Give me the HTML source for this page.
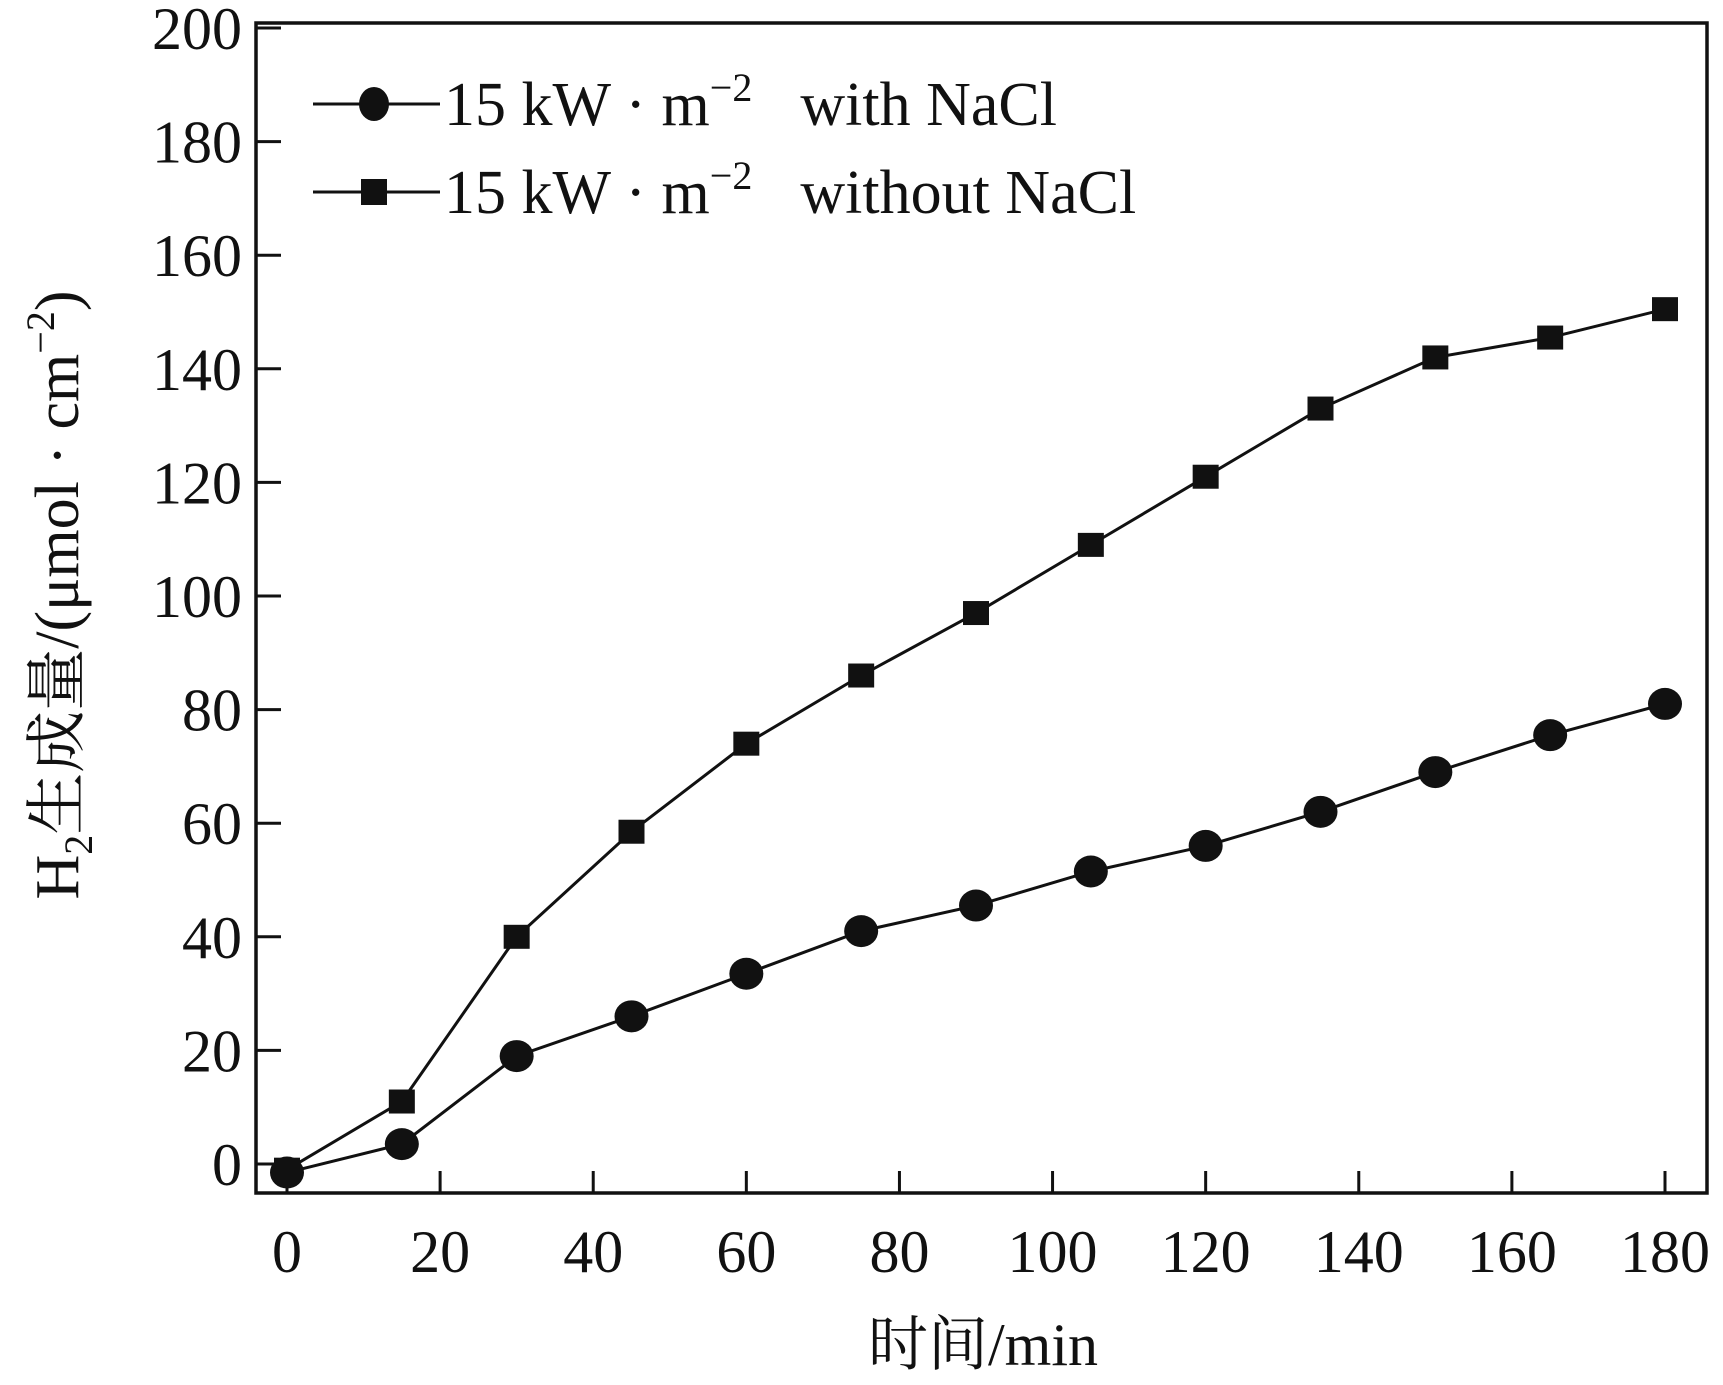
<!DOCTYPE html>
<html><head><meta charset="utf-8"><style>
html,body{margin:0;padding:0;background:#fff;}
svg{display:block;font-family:"Liberation Serif","Noto Serif CJK SC",serif;}
</style></head><body>
<svg id="chart" width="1723" height="1385" viewBox="0 0 1723 1385">
<rect x="256" y="23" width="1451" height="1170" fill="none" stroke="#111" stroke-width="3.5"/>
<g id="axes"></g>
<g id="series"></g>
<g>
  <g>
    <line x1="313" y1="104" x2="440" y2="104" stroke="#111" stroke-width="3"/>
    <ellipse cx="374" cy="104" rx="15" ry="17" fill="#111"/>
    <text x="444" y="125" font-size="62" fill="#111">15 kW · m<tspan dy="-24" font-size="40">−2</tspan><tspan dy="24" dx="48">with NaCl</tspan></text>
  </g>
  <g>
    <line x1="313" y1="192" x2="440" y2="192" stroke="#111" stroke-width="3"/>
    <rect x="361" y="179" width="26" height="26" fill="#111"/>
    <text x="444" y="213" font-size="62" fill="#111">15 kW · m<tspan dy="-24" font-size="40">−2</tspan><tspan dy="24" dx="48">without NaCl</tspan></text>
  </g>
</g>
<text transform="translate(78,595) rotate(-90)" text-anchor="middle" font-size="62" fill="#111">H<tspan dy="14" font-size="40">2</tspan><tspan dy="-14">生成量/(μmol · cm</tspan><tspan dy="-24" font-size="40">−2</tspan><tspan dy="24">)</tspan></text>
<text x="983" y="1365" text-anchor="middle" font-size="60" fill="#111">时间/min</text>
</svg>
<script>
const xTicks = [0,20,40,60,80,100,120,140,160,180];
const yTicks = [0,20,40,60,80,100,120,140,160,180,200];
const times = [0,15,30,45,60,75,90,105,120,135,150,165,180];
const withNaCl = [-1.5,3.5,19,26,33.5,41,45.5,51.5,56,62,69,75.5,81];
const withoutNaCl = [-1,11,40,58.5,74,86,97,109,121,133,142,145.5,150.5];
const NS='http://www.w3.org/2000/svg';
const X = v => 287 + v*(1665-287)/180;
const Y = v => 1164 - v*(1164-28)/200;
function mk(tag, attrs, parent){const e=document.createElementNS(NS,tag);for(const k in attrs)e.setAttribute(k,attrs[k]);parent.appendChild(e);return e;}
const axes=document.getElementById('axes');
xTicks.forEach(t=>{
  const l=mk('line',{x1:X(t),x2:X(t),y1:1193,y2:1171,stroke:'#111','stroke-width':3},axes);
  
  
  const tx=mk('text',{x:X(t),y:1272,'text-anchor':'middle','font-size':60,fill:'#111'},axes);
  tx.textContent=t;
  
  
});
yTicks.forEach(t=>{
  const l=mk('line',{x1:256,x2:281,y1:Y(t),y2:Y(t),stroke:'#111','stroke-width':3},axes);
  
  
  const tx=mk('text',{x:242,y:Y(t)+21,'text-anchor':'end','font-size':60,fill:'#111'},axes);
  tx.textContent=t;
  
  
});
const sg=document.getElementById('series');
function line(vals,name){
  const p=mk('polyline',{points:times.map((t,i)=>X(t)+','+Y(vals[i])).join(' '),fill:'none',stroke:'#111','stroke-width':3},sg);
  
  
}
line(withoutNaCl,'line-without-nacl');
line(withNaCl,'line-with-nacl');
times.forEach((t,i)=>{
  const r=mk('rect',{x:X(t)-13,y:Y(withoutNaCl[i])-12,width:26,height:24,fill:'#111'},sg);
  
  
  const c=mk('ellipse',{cx:X(t),cy:Y(withNaCl[i]),rx:17,ry:16,fill:'#111'},sg);
  
  
});
</script>
</body></html>
